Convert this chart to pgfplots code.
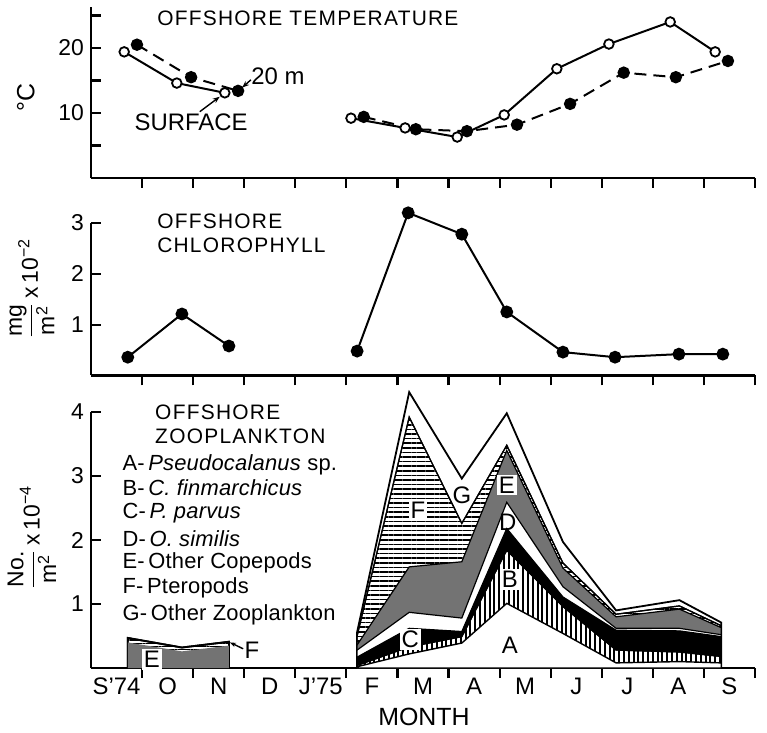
\documentclass[border=0pt]{standalone}
\usepackage{fontspec}
\setmainfont{Liberation Sans}
\newfontfamily\titlefont[LetterSpace=6]{Liberation Sans}
\newfontfamily\legfont[LetterSpace=1]{Liberation Sans}
\usepackage{amsmath}
\usepackage{pgfplots}
\usepackage{pgfplotstable}
\pgfplotsset{compat=1.18}
\usetikzlibrary{patterns.meta,calc,arrows.meta}

\pgfplotstableread{
x y
0.65 19.4
1.68 14.6
2.62 13.1
3.80 nan
5.09 9.2
6.15 7.7
7.17 6.3
8.09 9.7
9.12 16.8
10.14 20.6
11.34 24.0
12.22 19.4
}\surf
\pgfplotstableread{
x y
0.90 20.5
1.96 15.5
2.88 13.4
3.80 nan
5.34 9.4
6.36 7.5
7.36 7.2
8.34 8.2
9.38 11.4
10.43 16.2
11.45 15.5
12.47 18.0
}\twenty
\pgfplotstableread{
x y
0.72 0.36
1.78 1.21
2.70 0.58
3.80 nan
5.21 0.48
6.21 3.20
7.26 2.78
8.14 1.25
9.24 0.46
10.26 0.36
11.51 0.42
12.37 0.42
}\chl
\pgfplotstableread{
x A B C D E F G
5.21 0.02 0.04 0.17 0.28 0.36 0.50 0.56
6.23 0.22 0.33 0.62 0.87 1.58 3.92 4.31
7.26 0.39 0.49 0.57 0.78 1.66 2.26 2.96
8.14 1.01 1.84 2.18 2.59 3.40 3.48 3.98
9.24 0.54 0.96 1.11 1.27 1.56 1.64 1.97
10.28 0.08 0.28 0.59 0.62 0.80 0.84 0.90
11.52 0.10 0.25 0.58 0.62 0.92 0.97 1.06
12.34 0.08 0.18 0.49 0.52 0.63 0.66 0.71
}\zoo
\pgfplotstableread{
x E F
0.72 0.40 0.47
1.78 0.26 0.32
2.70 0.35 0.41
}\zooL

\pgfplotsset{
  panel/.style={
    scale only axis, width=332bp,
    xmin=0, xmax=13,
    axis x line*=bottom, axis y line*=left,
    axis line style={line width=1.1bp, -},
    xtick={0.5,1.5,...,12.5}, minor xtick={1,...,13},
    xticklabels={},
    xtick align=outside, ytick align=inside,
    major tick length=5bp, minor tick length=5bp,
    every tick/.style={black, line width=1.1bp},
    every major x tick/.style={draw=none},
    clip=false,
    /pgf/number format/assume math mode=true,
    tick label style={font=\fontsize{11.5}{13}\selectfont},
    ylabel style={font=\fontsize{11.5}{13}\selectfont, anchor=center},
  }
}
\newcommand\lbl{\fontsize{12}{14}\selectfont}
\newcommand\ttl{\titlefont\fontsize{10.5}{12}\selectfont}
\newcommand\leg{\legfont\fontsize{11}{13}\selectfont}

\begin{document}
\begin{tikzpicture}
% ---------- temperature ----------
\begin{axis}[panel, at={(0,245bp)}, anchor=south west, height=85.5bp,
  ymin=0, ymax=26.3, ytick={5,10,15,20,25}, yticklabels={,10,,20,},
  ylabel={°C}, ylabel style={at={(axis description cs:-0.098,0.47)}, font=\fontsize{12.5}{14}\selectfont},
  unbounded coords=jump]
\addplot[line width=1bp, dash pattern=on 6bp off 3.5bp, mark=*, mark size=2.6bp, mark options={solid, fill=black}] table {\twenty};
\addplot[line width=1bp, mark=*, mark size=2.4bp, mark options={solid, fill=white, line width=0.9bp}] table {\surf};
\node[anchor=west, font=\ttl, inner sep=0pt] at (axis cs:1.29,24.6) {OFFSHORE TEMPERATURE};
\node[font=\lbl, inner sep=0pt] at (axis cs:3.66,15.7) {20 m};
\node[font=\lbl, inner sep=0pt] at (axis cs:1.96,8.6) {SURFACE};
\draw[-{Stealth[length=3.5bp]}, line width=0.7bp] (axis cs:3.13,15.1) -- (axis cs:2.96,13.9);
\draw[-{Stealth[length=3.5bp]}, line width=0.7bp] (axis cs:2.13,10.2) -- (axis cs:2.52,12.5);
\end{axis}
% ---------- chlorophyll ----------
\begin{axis}[panel, at={(0,146.25bp)}, anchor=south west, height=76.25bp,
  ymin=0, ymax=3, ytick={1,2,3},
  ylabel={$\dfrac{\text{mg}}{\text{m}^{\text{2}}}$\,x\,10\textsuperscript{−2}},
  ylabel style={at={(axis description cs:-0.089,0.57)}},
  unbounded coords=jump]
\addplot[line width=1bp, mark=*, mark size=2.7bp] table {\chl};
\node[anchor=north west, align=left, font=\ttl, inner sep=0pt] at (axis cs:1.29,3.19) {OFFSHORE\\CHLOROPHYLL};
\end{axis}
% ---------- zooplankton ----------
\begin{axis}[panel, at={(0,0)}, anchor=south west, height=128bp,
  ymin=0, ymax=4, ytick={1,2,3,4},
  xticklabels={S’74,O,N,D,J’75,F,M,A,M,J,J,A,S},
  xticklabel style={font=\fontsize{12}{14}\selectfont, yshift=3.5bp},
  xlabel={MONTH}, xlabel style={at={(axis description cs:0.5015,-0.19)}, anchor=center, font=\fontsize{12.5}{14}\selectfont},
  ylabel={$\dfrac{\text{No.}}{\text{m}^{\text{2}}}$\,x\,10\textsuperscript{−4}},
  ylabel style={at={(axis description cs:-0.089,0.51)}}]
\coordinate (O) at (rel axis cs:0,0);
% main season, painter's order from top layer down
\addplot[draw=black, line width=0.9bp, fill=white] table[y=G] {\zoo} \closedcycle;
\addplot[draw=black, line width=0.6bp, fill=white, postaction={pattern={Lines[angle=0,distance=2.3bp,line width=0.85bp]}}] table[y=F] {\zoo} \closedcycle;
\addplot[draw=black, line width=0.6bp, fill=black!55] table[y=E] {\zoo} \closedcycle;
\addplot[draw=black, line width=0.6bp, fill=white] table[y=D] {\zoo} \closedcycle;
\addplot[draw=black, line width=0.6bp, fill=black] table[y=C] {\zoo} \closedcycle;
\addplot[draw=black, line width=0.6bp, fill=white, postaction={pattern={Lines[angle=90,distance=2.4bp,line width=0.95bp]}}] table[y=B] {\zoo} \closedcycle;
\addplot[draw=black, line width=0.7bp, fill=white] table[y=A] {\zoo} \closedcycle;
% autumn 1974
\addplot[draw=black, line width=0.9bp, fill=white, postaction={pattern={Lines[angle=0,distance=1.6bp,line width=0.7bp]}}] table[y=F] {\zooL} \closedcycle;
\addplot[draw=none, fill=black!55] table[y=E] {\zooL} \closedcycle;
% layer letters
\node[font=\lbl, fill=white, inner sep=1pt] at (axis cs:1.19,0.13) {E};
\node[font=\lbl, inner sep=0pt] at (axis cs:3.15,0.28) {F};
\draw[line width=0.7bp, -{Stealth[length=3bp]}] (axis cs:2.98,0.30) -- (axis cs:2.72,0.40);
\node[font=\lbl, fill=white, inner sep=1pt] at (axis cs:6.4,2.47) {F};
\node[font=\lbl, inner sep=0pt] at (axis cs:7.26,2.7) {G};
\node[font=\lbl, fill=white, inner sep=1pt] at (axis cs:8.14,2.86) {E};
\node[font=\lbl, inner sep=0pt] at (axis cs:8.16,2.28) {D};
\node[font=\lbl, fill=white, inner sep=1pt] at (axis cs:8.2,1.38) {B};
\node[font=\lbl, fill=white, inner sep=1pt] at (axis cs:6.25,0.45) {C};
\node[font=\lbl, inner sep=0pt] at (axis cs:8.2,0.36) {A};
% title and key
\node[anchor=north west, align=left, font=\ttl, inner sep=0pt] at (axis cs:1.25,4.11) {OFFSHORE\\ZOOPLANKTON};
\node[anchor=west, font=\leg, inner sep=0pt] at (axis cs:0.61,3.17) {A-\,\textit{Pseudocalanus} sp.};
\node[anchor=west, font=\leg, inner sep=0pt] at (axis cs:0.61,2.81) {B-\,\textit{C. finmarchicus}};
\node[anchor=west, font=\leg, inner sep=0pt] at (axis cs:0.61,2.42) {C-\,\textit{P. parvus}};
\node[anchor=west, font=\leg, inner sep=0pt] at (axis cs:0.61,2.02) {D-\,\textit{O. similis}};
\node[anchor=west, font=\leg, inner sep=0pt] at (axis cs:0.61,1.64) {E-\,Other Copepods};
\node[anchor=west, font=\leg, inner sep=0pt] at (axis cs:0.61,1.25) {F-\,Pteropods};
\node[anchor=west, font=\leg, inner sep=0pt] at (axis cs:0.61,0.83) {G-\,Other Zooplankton};
\end{axis}
\pgfresetboundingbox
\path[use as bounding box] ($(O)+(-45.5bp,-32.5bp)$) rectangle ($(O)+(338bp,334bp)$);
\end{tikzpicture}
\end{document}
